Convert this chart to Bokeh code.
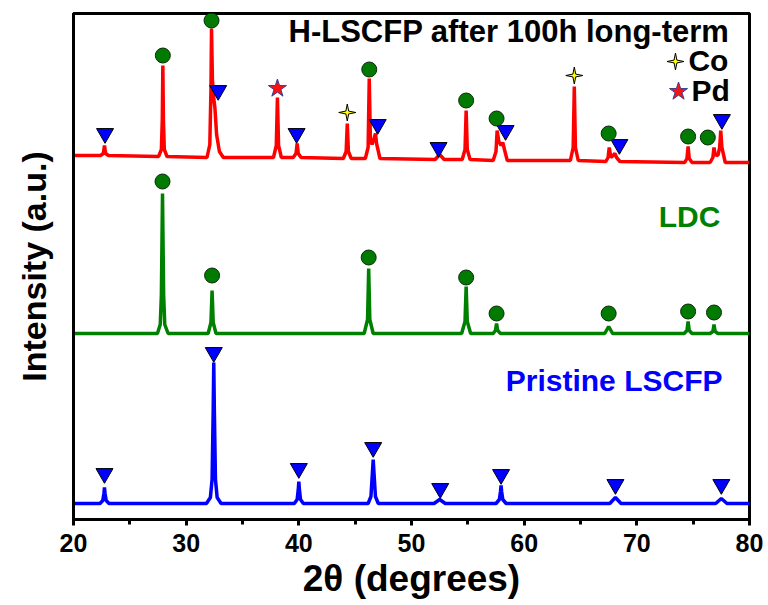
import numpy as np
from bokeh.plotting import figure
from bokeh.models import Range1d, SingleIntervalTicker, FixedTicker
from bokeh.core.properties import value
from bokeh.embed import file_html
from bokeh.resources import INLINE

# ---------------- data (intensity in a.u.) ----------------
# Pristine LSCFP (blue)
blue_2theta = [20, 22.35, 22.6, 22.7, 22.75, 22.8, 22.9, 23.15,
               31.8, 32.15, 32.3, 32.4, 32.45, 32.5, 32.6, 32.75, 33.1,
               39.6, 39.85, 39.95, 40.0, 40.05, 40.15, 40.4,
               46.15, 46.4, 46.52, 46.6, 46.68, 46.8, 47.05,
               52.0, 52.5, 53.0,
               57.5, 57.8, 57.9, 57.95, 58.0, 58.1, 58.4,
               67.6, 68.1, 68.6,
               77.0, 77.5, 78.0, 80]
blue_int = [16, 16, 19, 26, 32, 26, 19, 16,
            16, 22, 40, 110, 157, 110, 40, 22, 16,
            16, 20, 30, 38, 30, 20, 16,
            16, 23, 45, 60, 45, 23, 16,
            16, 20, 16,
            16, 20, 28, 34, 28, 20, 16,
            16, 22, 16,
            16, 21, 16, 16]

# LDC (green)
green_2theta = [20, 27.45, 27.7, 27.8, 27.9, 28.0, 28.1, 28.4,
                31.95, 32.2, 32.3, 32.4, 32.65,
                45.8, 46.1, 46.2, 46.3, 46.6,
                54.45, 54.75, 54.85, 54.95, 55.25,
                57.25, 57.45, 57.55, 57.65, 57.9,
                67.15, 67.5, 67.85,
                74.2, 74.45, 74.55, 74.65, 74.9,
                76.5, 76.75, 76.85, 76.95, 77.2, 80]
green_int = [186, 186, 195, 225, 326, 225, 195, 186,
             186, 197, 229, 197, 186,
             186, 200, 251, 200, 186,
             186, 198, 233, 198, 186,
             186, 189, 196, 189, 186,
             186, 193, 186,
             186, 189, 198, 189, 186,
             186, 188, 195, 188, 186, 186]

# H-LSCFP after 100h long-term (red)
red_2theta = [20, 22.4, 22.65, 22.75, 22.85, 23.1,
              27.55, 27.8, 27.88, 27.93, 27.98, 28.06, 28.3,
              31.85, 32.1, 32.2, 32.25, 32.33, 32.45, 32.55, 32.7, 32.95, 33.3,
              37.75, 38.0, 38.1, 38.2, 38.45,
              39.5, 39.75, 39.85, 39.95, 40.2,
              43.95, 44.2, 44.3, 44.4, 44.65,
              45.9, 46.15, 46.25, 46.35, 46.5, 46.7, 46.8, 46.9, 47.2,
              52.1, 52.5, 52.9,
              54.5, 54.75, 54.85, 54.95, 55.2,
              57.25, 57.5, 57.6, 57.75, 57.95, 58.1, 58.25, 58.5,
              64.1, 64.35, 64.45, 64.55, 64.8,
              67.25, 67.45, 67.55, 67.7, 67.9, 68.05, 68.2, 68.5,
              74.25, 74.45, 74.55, 74.65, 74.9,
              76.5, 76.75, 76.85, 76.95, 77.2, 77.35, 77.45, 77.55, 77.85, 80]
red_int = [364, 364, 366, 374, 366, 364,
           363, 370, 400, 454, 400, 370, 363,
           362, 375, 430, 491, 440, 421, 412, 385, 368, 362,
           362, 374, 422, 374, 362,
           362, 366, 376, 366, 362,
           361, 368, 396, 368, 361,
           361, 372, 441, 380, 375, 382, 386, 376, 361,
           360, 365, 360,
           360, 370, 409, 370, 360,
           359, 368, 389, 378, 374, 377, 370, 359,
           359, 372, 433, 372, 359,
           358, 362, 372, 362, 364, 366, 362, 358,
           357, 361, 373, 361, 357,
           357, 362, 372, 365, 364, 372, 389, 372, 357, 357]

# phase markers: (2theta, a.u.)
perov_x = [22.8, 32.84, 39.8, 47.0, 52.4, 58.35, 68.45, 77.55,      # on red
           22.75, 32.45, 40.0, 46.6, 52.55, 57.95, 68.1, 77.5]       # on blue
perov_y = [386, 429, 386, 395, 372, 389, 375, 400,
           46, 167, 51, 72, 31, 45, 35, 35]
ldc_x = [27.93, 32.25, 46.25, 54.85, 57.55, 67.5, 74.55, 76.3,         # on red
         27.9, 32.3, 46.2, 54.85, 57.55, 67.5, 74.55, 76.85]          # on green
ldc_y = [464, 499, 450, 419, 401, 386, 383, 382,
         338, 244, 262, 242, 206, 206, 208, 207]
co_x = [44.3, 64.45]
co_y = [407, 444]
pd_x = [38.1]
pd_y = [431]

FONT = "Liberation Sans"

p = figure(width=768, height=605, x_range=Range1d(20, 80), y_range=Range1d(0, 506),
           output_backend="svg", toolbar_location=None,
           min_border_left=73, min_border_right=19, min_border_top=13, min_border_bottom=86)
p.background_fill_color = "white"
p.border_fill_color = "white"
p.xgrid.visible = False
p.ygrid.visible = False
p.outline_line_color = "black"
p.outline_line_width = 3
p.outline_line_alpha = 1.0

xa = p.xaxis[0]
xa.ticker = SingleIntervalTicker(interval=10, num_minor_ticks=2)
xa.axis_line_color = "black"
xa.axis_line_width = 3
xa.major_tick_line_width = 3
xa.minor_tick_line_width = 3
xa.major_tick_out = 6
xa.major_tick_in = 0
xa.minor_tick_out = 5
xa.minor_tick_in = 0
xa.major_label_text_font = FONT
xa.major_label_text_font_style = "bold"
xa.major_label_text_font_size = "25px"
xa.major_label_text_color = "black"
xa.major_label_standoff = 8
xa.axis_label = "2θ (degrees)"
xa.axis_label_text_font = FONT
xa.axis_label_text_font_style = "bold"
xa.axis_label_text_font_size = "37px"
xa.axis_label_text_color = "black"
xa.axis_label_standoff = 3

ya = p.yaxis[0]
ya.ticker = FixedTicker(ticks=[], minor_ticks=[])
ya.axis_line_color = "black"
ya.axis_line_width = 3
ya.major_tick_line_color = None
ya.minor_tick_line_color = None
ya.major_label_text_font_size = "0px"
ya.axis_label = "Intensity (a.u.)"
ya.axis_label_text_font = FONT
ya.axis_label_text_font_style = "bold"
ya.axis_label_text_font_size = "34px"
ya.axis_label_text_color = "black"
ya.axis_label_standoff = 21

# curves
p.line(blue_2theta, blue_int, line_color="#0000FF", line_width=3.5)
p.line(green_2theta, green_int, line_color="#008000", line_width=3.5)
p.line(red_2theta, red_int, line_color="#FF0000", line_width=3.5)

# markers
p.scatter(perov_x, perov_y, marker="inverted_triangle", size=17,
          fill_color="#0000FF", line_color="black", line_width=1)
p.scatter(ldc_x, ldc_y, marker="circle", size=15,
          fill_color="#007A00", line_color="#0b2a0b", line_width=1)
p.scatter(pd_x, pd_y, marker="star", size=19,
          fill_color="#FF1010", line_color="#3a3f8f", line_width=1)

# four-pointed Co star drawn as a polygon (sized in screen pixels)
px_per_deg = 676 / 60.0
px_per_unit = 1.0


def four_star(cx, cy, R=8.5, r=2.0):
    xs, ys = [], []
    for k in range(8):
        ang = np.pi / 2 + k * np.pi / 4
        rad = R if k % 2 == 0 else r
        xs.append(cx + rad * np.cos(ang) / px_per_deg)
        ys.append(cy + rad * np.sin(ang) / px_per_unit)
    return xs, ys


co_legend_x, co_legend_y = 73.43, 458
pd_legend_x, pd_legend_y = 73.7, 428
star_xs, star_ys = [], []
for cx, cy in list(zip(co_x, co_y)) + [(co_legend_x, co_legend_y)]:
    sx, sy = four_star(cx, cy)
    star_xs.append(sx)
    star_ys.append(sy)
p.patches(star_xs, star_ys, fill_color="#FFFF00", line_color="black", line_width=1)
p.scatter([pd_legend_x], [pd_legend_y], marker="star", size=19,
          fill_color="#FF1010", line_color="#3a3f8f", line_width=1)

# texts
def label(x, y, txt, color, align, size="30px"):
    p.text([x], [y], text=[txt], text_color=color, text_font=value(FONT),
           text_font_style="bold", text_font_size=size,
           text_align=align, text_baseline="alphabetic")

label(78.22, 488, "H-LSCFP after 100h long-term", "black", "right", "31px")
label(74.58, 459, "Co", "black", "left")
label(74.85, 429, "Pd", "black", "left")
label(77.42, 303, "LDC", "#008000", "right")
label(77.6, 139, "Pristine LSCFP", "#0000FF", "right")

open("out.html", "w").write(file_html(p, INLINE))
